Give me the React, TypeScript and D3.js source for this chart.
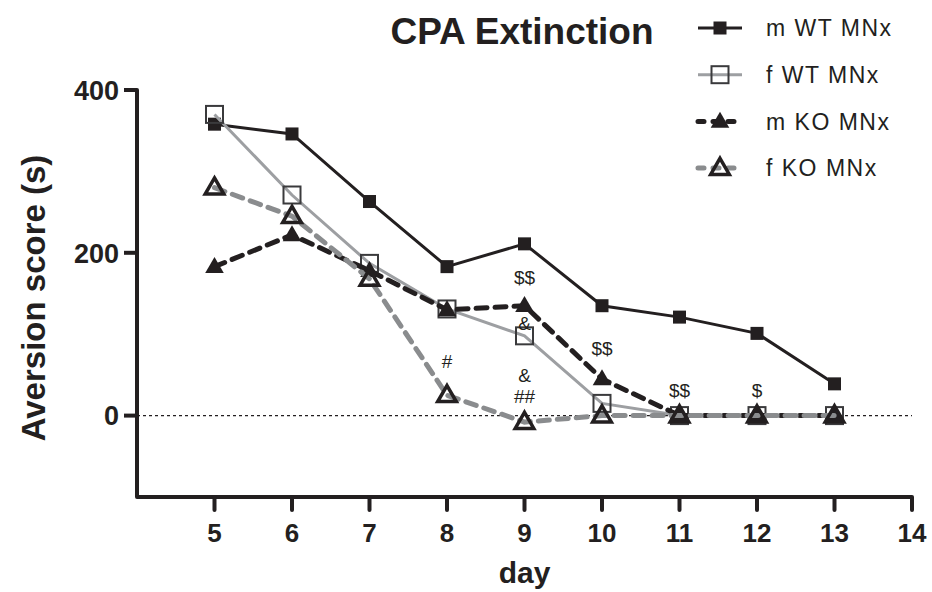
import React, { useEffect, useRef } from 'react';
import * as d3 from 'd3';

const days = [5, 6, 7, 8, 9, 10, 11, 12, 13];
const mWT = [358, 346, 263, 183, 211, 135, 121, 101, 39];
const fWT = [370, 271, 187, 131, 98, 15, 0, 0, 0];
const mKO = [183, 222, 178, 130, 135, 45, 0, 0, 0];
const fKO = [280, 245, 168, 25, -8, 0, 0, 0, 0];

const xTicks = [5, 6, 7, 8, 9, 10, 11, 12, 13, 14];
const yTicks = [0, 200, 400];

// significance marks: day, value, label
const marks: [number, number, string][] = [
  [8, 59, '#'],
  [9, 162, '$$'],
  [9, 105, '&'],
  [9, 41, '&'],
  [9, 15, '##'],
  [10, 74, '$$'],
  [11, 23, '$$'],
  [12, 23, '$'],
];

const FONT = 'Liberation Sans, Arial, sans-serif';

const App = () => {
  const svgRef = useRef<SVGSVGElement>(null);

  useEffect(() => {
    const svg = d3.select(svgRef.current);
    svg.selectAll('*').remove();

    const x = d3.scaleLinear().domain([4, 14]).range([137, 912]);
    const y = d3.scaleLinear().domain([-100, 400]).range([497, 90]);

    // axes
    const ax = svg.append('g').attr('stroke', '#231f20').attr('fill', 'none');
    ax.append('path')
      .attr('d', `M${x(4) - 13},${y(400)}H${x(4)}V${y(-100)}H${x(14)}`)
      .attr('stroke-width', 4)
      .attr('stroke-linejoin', 'round');
    yTicks.forEach(t => {
      ax.append('line').attr('x1', x(4) - 13).attr('x2', x(4)).attr('y1', y(t)).attr('y2', y(t)).attr('stroke-width', 4);
    });
    xTicks.forEach(t => {
      ax.append('line').attr('x1', x(t)).attr('x2', x(t)).attr('y1', y(-100)).attr('y2', y(-100) + 13).attr('stroke-width', 4).attr('stroke-linecap', 'round');
    });

    svg.append('g').selectAll('text').data(yTicks).enter().append('text')
      .attr('x', x(4) - 18).attr('y', d => y(d)).attr('dy', '0.36em')
      .attr('text-anchor', 'end')
      .style('font', `bold 27px ${FONT}`).style('fill', '#231f20')
      .text(d => d);

    svg.append('g').selectAll('text').data(xTicks).enter().append('text')
      .attr('x', d => x(d)).attr('y', y(-100) + 45)
      .attr('text-anchor', 'middle')
      .style('font', `bold 26px ${FONT}`).style('fill', '#231f20')
      .text(d => d);

    svg.append('text').attr('x', x(9)).attr('y', 583).attr('text-anchor', 'middle')
      .style('font', `bold 30px ${FONT}`).style('fill', '#231f20').text('day');

    svg.append('text').attr('transform', `translate(45, 298) rotate(-90)`)
      .attr('text-anchor', 'middle')
      .style('font', `bold 33px ${FONT}`).style('fill', '#231f20').text('Aversion score (s)');

    svg.append('text').attr('x', 522).attr('y', 44).attr('text-anchor', 'middle')
      .style('font', `bold 37px ${FONT}`).style('fill', '#231f20').text('CPA Extinction');

    // zero line
    svg.append('line').attr('x1', x(4)).attr('x2', x(14)).attr('y1', y(0)).attr('y2', y(0))
      .attr('stroke', '#231f20').attr('stroke-width', 1.2).attr('stroke-dasharray', '3,3');

    const line = d3.line<number>().x((d, i) => x(days[i])).y(d => y(d));
    const tri = d3.symbol().type(d3.symbolTriangle);

    const series = [
      { vals: mWT, stroke: '#231f20', width: 3, dash: null, marker: 'sqF' },
      { vals: fWT, stroke: '#9d9fa2', width: 3, dash: null, marker: 'sqO' },
      { vals: mKO, stroke: '#231f20', width: 5, dash: '11,8', marker: 'triF' },
      { vals: fKO, stroke: '#8a8c8e', width: 5, dash: '11,8', marker: 'triO' },
    ];

    const drawMarker = (g: any, kind: string, cx: number, cy: number) => {
      if (kind === 'sqF') {
        g.append('rect').attr('x', cx - 6.5).attr('y', cy - 6.5).attr('width', 13).attr('height', 13).attr('fill', '#231f20');
      } else if (kind === 'sqO') {
        g.append('rect').attr('x', cx - 8.5).attr('y', cy - 8.5).attr('width', 17).attr('height', 17)
          .attr('fill', 'none').attr('stroke', '#3a3a3c').attr('stroke-width', 2);
      } else if (kind === 'triF') {
        g.append('path').attr('d', tri.size(150)()).attr('transform', `translate(${cx},${cy + 1})`).attr('fill', '#231f20');
      } else {
        g.append('path').attr('d', tri.size(150)()).attr('transform', `translate(${cx},${cy + 1})`)
          .attr('fill', 'none').attr('stroke', '#231f20').attr('stroke-width', 3.5).attr('stroke-linejoin', 'miter');
      }
    };

    series.forEach(s => {
      const p = svg.append('path').datum(s.vals).attr('d', line)
        .attr('fill', 'none').attr('stroke', s.stroke).attr('stroke-width', s.width)
        .attr('stroke-linecap', s.dash ? 'round' : 'butt');
      if (s.dash) p.attr('stroke-dasharray', s.dash);
      const g = svg.append('g');
      s.vals.forEach((v, i) => drawMarker(g, s.marker, x(days[i]), y(v)));
    });

    svg.append('g').selectAll('text').data(marks).enter().append('text')
      .attr('x', d => x(d[0])).attr('y', d => y(d[1]))
      .attr('text-anchor', 'middle')
      .style('font', `19px ${FONT}`).style('fill', '#231f20')
      .text(d => d[2]);

    // legend
    const labels = ['m WT MNx', 'f WT MNx', 'm KO MNx', 'f KO MNx'];
    const lg = svg.append('g');
    series.forEach((s, i) => {
      const ly = 28 + i * 46.7;
      const l = lg.append('line').attr('x1', 698).attr('x2', 742).attr('y1', ly).attr('y2', ly)
        .attr('stroke', s.stroke).attr('stroke-width', s.width)
        .attr('stroke-linecap', s.dash ? 'round' : 'butt');
      if (s.dash) l.attr('stroke-dasharray', '6,9');
      drawMarker(lg, s.marker, 720, ly);
      lg.append('text').attr('x', 766).attr('y', ly).attr('dy', '0.36em')
        .style('font', `23px ${FONT}`).style('letter-spacing', '1.5px').style('fill', '#231f20').text(labels[i]);
    });
  }, []);

  return (
    <svg ref={svgRef} width={932} height={592} style={{ position: 'absolute', left: 0, top: 0, background: '#fff' }} />
  );
};

export default App;
